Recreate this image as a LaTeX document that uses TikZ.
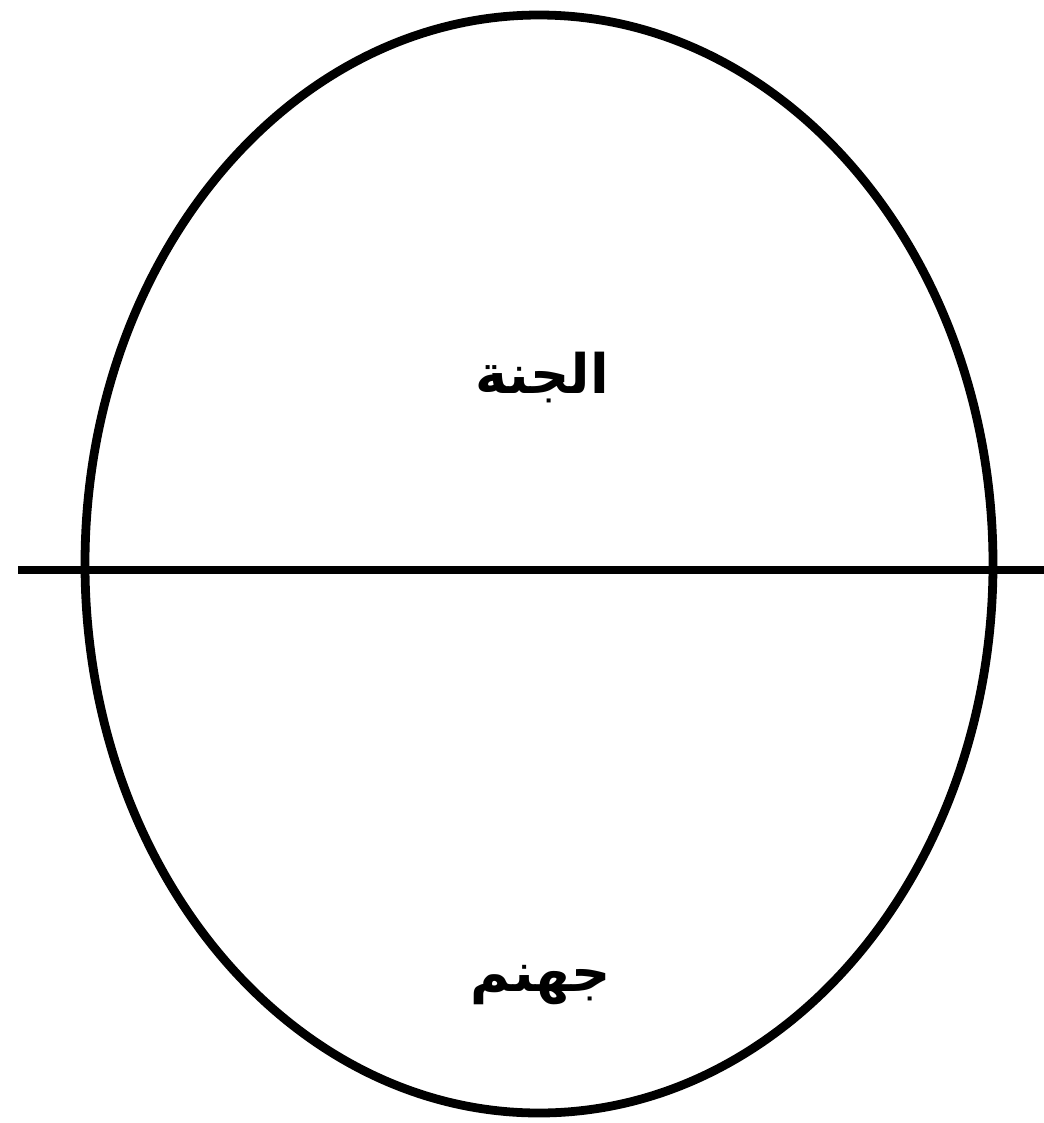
\documentclass[tikz,border=0pt]{standalone}
\usepackage{fontspec}
\newfontfamily\arabicfont[Script=Arabic]{DejaVu Sans}
\TeXXeTstate=1
\usepackage{xcolor}

\begin{document}
\begin{tikzpicture}[x=0.02cm, y=-0.02cm, line width=5pt]
    \useasboundingbox (0,0) rectangle (1044,1123);
    \draw (539,564) ellipse [x radius=454, y radius=549];
    \draw (18,570) -- (1044,570);
    \node[font=\arabicfont\bfseries\fontsize{31}{37}\selectfont] (jannah) at (542,378) {\beginR الجنة\endR};
    \node[font=\arabicfont\bfseries\fontsize{31}{37}\selectfont] (jahannam) at (541,985) {\beginR جهنم\endR};
  \end{tikzpicture}
\end{document}
